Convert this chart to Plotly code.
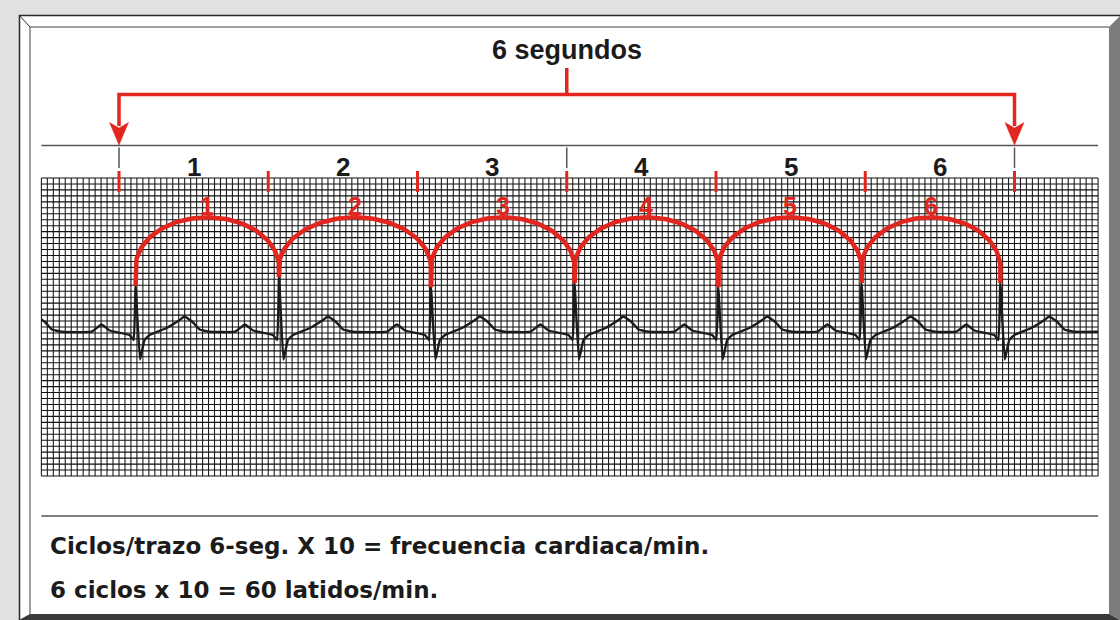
import numpy as np
import plotly.graph_objects as go

# ---------------- data ----------------
seconds = [0, 1, 2, 3, 4, 5, 6]                 # second marks along the strip
second_labels = ["1", "2", "3", "4", "5", "6"]    # black labels between marks
cycle_labels = ["1", "2", "3", "4", "5", "6"]     # red labels over each cycle
major_marks = [0, 3, 6]                           # seconds with thin black marks

# R-peak times (s) and R amplitudes (mV); the first beat lies left of the strip
r_times = [-0.878, 0.111, 1.072, 2.090, 3.052, 4.015, 4.975, 5.905]
r_amps = [0.70, 0.69, 0.84, 0.67, 0.74, 0.67, 0.74, 0.74]

# one PQRST cycle around the R peak: time offset (s) and voltage (mV)
pre_r_dt = [-0.295, -0.228, -0.174, -0.040, -0.013]
pre_r_mv = [-0.079, 0.042, -0.059, -0.134, -0.218]
post_r_dt = [0.030, 0.060, 0.094, 0.208, 0.295, 0.328, 0.382, 0.429, 0.496]
post_r_mv = [-0.545, -0.218, -0.134, -0.017, 0.117, 0.176, 0.084, -0.042, -0.079]

# strip paper extent (s, mV)
strip_t = [-0.52, 6.56]
strip_mv = [-2.5, 2.5]

title_text = "6 segundos"
note_line1 = "Ciclos/trazo 6-seg. X 10 = frecuencia cardiaca/min."
note_line2 = "6 ciclos x 10 = 60 latidos/min."

# ---------------- styles ----------------
RED = "#e0261e"
INK = "#1b1b1b"
FONT = "Liberation Sans, Arial, sans-serif"
WIDE_FONT = "DejaVu Sans, Verdana, sans-serif"
W, H = 1120, 620
PX_PER_S = 149.25
PX_PER_MV = 59.6
X0_PX, Y0_PX = 119.0, 327.0

xr = [-X0_PX / PX_PER_S, (W - X0_PX) / PX_PER_S]
yr = [-(H - Y0_PX) / PX_PER_MV, Y0_PX / PX_PER_MV]


def ypx(p):  # pixel row -> mV (layout helper)
    return (Y0_PX - p) / PX_PER_MV


def xpx(p):  # pixel column -> s (layout helper)
    return (p - X0_PX) / PX_PER_S


fig = go.Figure()

# ---------------- frame (paper shapes) ----------------
def P(x, y):
    return x / W, 1 - y / H


shapes = []
x1, y1 = P(19, 15)
x2, y2 = P(W, H)
shapes.append(dict(type="rect", xref="paper", yref="paper", x0=x1, y0=y2, x1=x2, y1=y1,
                   fillcolor="white", line=dict(width=0), layer="below"))


def poly(pts, color):
    d = "M " + " L ".join(f"{P(a, b)[0]:.5f},{P(a, b)[1]:.5f}" for a, b in pts) + " Z"
    return dict(type="path", xref="paper", yref="paper", path=d, fillcolor=color,
                line=dict(width=0), layer="below")


shapes.append(poly([(1109, 27), (1120, 16), (1120, 620), (1109, 614)], "#7c7c7c"))
shapes.append(poly([(30, 614), (1109, 614), (1120, 620), (19, 620)], "#3a3a3a"))


def pline(a, b, c, d, color, w):
    xa, ya = P(a, b)
    xb, yb = P(c, d)
    return dict(type="line", xref="paper", yref="paper", x0=xa, y0=ya, x1=xb, y1=yb,
                line=dict(color=color, width=w), layer="below")


shapes.append(pline(19, 15.5, 1120, 15.5, "#2a2a2a", 1.5))
shapes.append(pline(19.5, 15, 19.5, 620, "#2a2a2a", 1.5))
shapes.append(pline(19, 15, 30, 27, "#2a2a2a", 1))
shapes.append(pline(30, 27, 1109, 27, "#808080", 1.5))
shapes.append(pline(30, 27, 30, 614, "#808080", 1.5))

# separator lines in data units
for yy in (ypx(145.5), ypx(516)):
    shapes.append(dict(type="line", xref="x", yref="y", x0=strip_t[0], x1=strip_t[1],
                       y0=yy, y1=yy, line=dict(color="#555555", width=1.5), layer="below"))

# ---------------- grid ----------------
gx = np.round(np.arange(strip_t[0], strip_t[1] + 1e-9, 0.04), 4)
gy = np.round(np.arange(strip_mv[0], strip_mv[1] + 1e-9, 0.1), 4)
vx, vy = [], []
for t in gx:
    vx += [t, t, None]
    vy += [strip_mv[0], strip_mv[1], None]
hx, hy = [], []
for v in gy:
    hx += [strip_t[0], strip_t[1], None]
    hy += [v, v, None]
fig.add_trace(go.Scatter(x=vx, y=vy, mode="lines", line=dict(color="#1e1e1e", width=1.1),
                         hoverinfo="skip"))
fig.add_trace(go.Scatter(x=hx, y=hy, mode="lines", line=dict(color="#111111", width=1.1),
                         hoverinfo="skip"))

# ---------------- ECG trace ----------------
et, ev = [], []
for rt, ra in zip(r_times, r_amps):
    et += [rt + d for d in pre_r_dt] + [rt] + [rt + d for d in post_r_dt]
    ev += pre_r_mv + [ra] + post_r_mv
et = np.array(et)
ev = np.array(ev)
inside = (et > strip_t[0]) & (et < strip_t[1])
tt = np.concatenate([[strip_t[0]], et[inside], [strip_t[1]]])
vv = np.interp(tt, et, ev)
fig.add_trace(go.Scatter(x=tt, y=vv, mode="lines",
                         line=dict(color=INK, width=2.4, shape="spline", smoothing=0.35),
                         hoverinfo="skip"))

# ---------------- red cycle arcs ----------------
arc_c = 1.0   # mV, ellipse centre level
arc_b = 0.84  # mV, vertical radius
theta = np.linspace(np.pi, 0, 80)
beats = list(zip(r_times[1:], r_amps[1:]))
for i in range(len(cycle_labels)):
    (ta, aa), (tb, ab) = beats[i], beats[i + 1]
    cx, a = (ta + tb) / 2, (tb - ta) / 2
    ax = [ta] + list(cx + a * np.cos(theta)) + [tb]
    ay = [aa] + list(arc_c + arc_b * np.sin(theta)) + [ab]
    fig.add_trace(go.Scatter(x=ax, y=ay, mode="lines", line=dict(color=RED, width=4.5),
                             hoverinfo="skip"))
    fig.add_annotation(x=cx, y=ypx(206), text=f"<b>{cycle_labels[i]}</b>", showarrow=False,
                       font=dict(family=FONT, size=25, color=RED), xanchor="center",
                       yanchor="middle")

# ---------------- second marks ----------------
tx, ty = [], []
for s in seconds:
    tx += [s, s, None]
    ty += [ypx(171), ypx(192), None]
fig.add_trace(go.Scatter(x=tx, y=ty, mode="lines", line=dict(color=RED, width=3),
                         hoverinfo="skip"))
mx, my = [], []
for s in major_marks:
    mx += [s, s, None]
    my += [ypx(147.5), ypx(168), None]
fig.add_trace(go.Scatter(x=mx, y=my, mode="lines", line=dict(color="#555555", width=1.5),
                         hoverinfo="skip"))
for i, lab in enumerate(second_labels):
    fig.add_annotation(x=(seconds[i] + seconds[i + 1]) / 2, y=ypx(166.5),
                       text=f"<b>{lab}</b>", showarrow=False,
                       font=dict(family=FONT, size=26, color=INK), xanchor="center",
                       yanchor="middle")

# ---------------- bracket with arrows ----------------
t0, t6 = seconds[0], seconds[-1]
tm = (t0 + t6) / 2
yb = ypx(94.5)
fig.add_trace(go.Scatter(x=[t0, t0, t6, t6], y=[ypx(126), yb, yb, ypx(126)], mode="lines",
                         line=dict(color=RED, width=3.5), hoverinfo="skip"))
fig.add_trace(go.Scatter(x=[tm, tm], y=[ypx(68), yb], mode="lines",
                         line=dict(color=RED, width=3.5), hoverinfo="skip"))
hw = 9.5 / PX_PER_S
for s in (t0, t6):
    fig.add_trace(go.Scatter(x=[s - hw, s, s + hw, s, s - hw],
                             y=[ypx(122.5), ypx(128), ypx(122.5), ypx(145), ypx(122.5)],
                             mode="lines", fill="toself", fillcolor=RED,
                             line=dict(color=RED, width=0.5), hoverinfo="skip"))

fig.add_annotation(x=tm, y=ypx(50), text=f"<b>{title_text}</b>", showarrow=False,
                   font=dict(family=FONT, size=27, color=INK), xanchor="center",
                   yanchor="middle")

# ---------------- bottom notes ----------------
fig.add_annotation(x=xpx(48), y=ypx(546), text=f"<b>{note_line1}</b>", showarrow=False,
                   font=dict(family=WIDE_FONT, size=23, color=INK), xanchor="left",
                   yanchor="middle")
fig.add_annotation(x=xpx(48), y=ypx(589.5), text=f"<b>{note_line2}</b>", showarrow=False,
                   font=dict(family=WIDE_FONT, size=23, color=INK), xanchor="left",
                   yanchor="middle")

fig.update_layout(
    width=W, height=H, margin=dict(l=0, r=0, t=0, b=0, pad=0),
    paper_bgcolor="#e1e1e1", plot_bgcolor="rgba(0,0,0,0)",
    showlegend=False, hovermode=False, shapes=shapes,
    xaxis=dict(range=xr, visible=False, fixedrange=True, domain=[0, 1]),
    yaxis=dict(range=yr, visible=False, fixedrange=True, domain=[0, 1]),
)

fig.write_html("out.html", config={"displayModeBar": False, "staticPlot": True},
               post_script="document.body.style.margin='0px';document.body.style.overflow='hidden';")
